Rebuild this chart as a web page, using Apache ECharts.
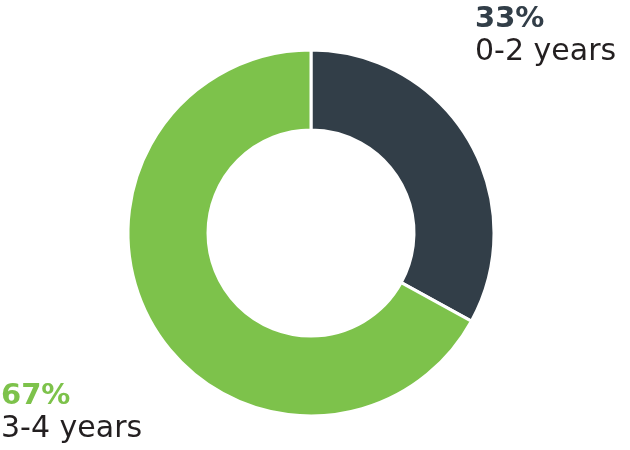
<!DOCTYPE html>
<html><head><meta charset="utf-8">
<script src="https://cdn.jsdelivr.net/npm/echarts@6/dist/echarts.min.js"></script>
<style>html,body{margin:0;padding:0;background:#fff}#c{width:630px;height:450px}</style>
</head><body><div id="c"></div>
<script>
const categories = ['0-2 years', '3-4 years'];
const values = [33, 67];
const colors = ['#323E48', '#7DC24B'];
const labelPos = [{x: 475, y: 3, align: 'left'}, {x: 1, y: 380, align: 'left'}];

const chart = echarts.init(document.getElementById('c'));
chart.setOption({
  animation: false,
  series: [{
    type: 'pie',
    center: [311, 233],
    radius: [103, 183],
    startAngle: 90,
    clockwise: true,
    itemStyle: {borderColor: '#fff', borderWidth: 3},
    labelLine: {show: false},
    data: categories.map((c, i) => ({
      name: c, value: values[i],
      itemStyle: {color: colors[i]},
      label: {
        formatter: '{p|{c}%}\n{n|{b}}',
        rich: {
          p: {fontFamily: 'DejaVu Sans', fontWeight: 'bold', fontSize: 29, color: colors[i], lineHeight: 33},
          n: {fontFamily: 'DejaVu Sans', fontSize: 30, color: '#231F20', lineHeight: 33}
        }
      }
    })),
    label: {show: true, position: 'outside', overflow: 'none', width: 300},
    labelLayout: function (p) {
      const l = labelPos[p.dataIndex];
      return {x: l.x, y: l.y, align: l.align, verticalAlign: 'top', moveOverlap: null};
    }
  }]
});
</script></body></html>
